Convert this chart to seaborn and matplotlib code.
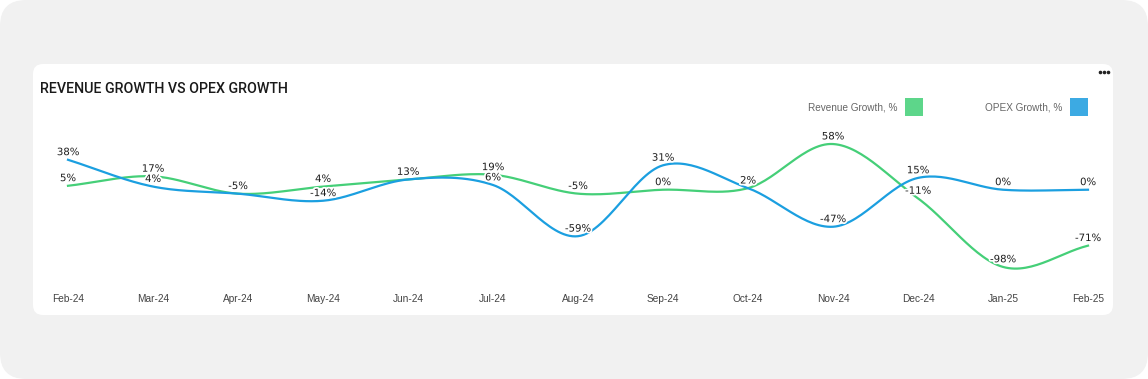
import numpy as np
import pandas as pd
import matplotlib
matplotlib.use("Agg")
import matplotlib.pyplot as plt
import matplotlib.patheffects as pe
from matplotlib.patches import FancyBboxPatch, Rectangle
import seaborn as sns

# data
months = ["Feb-24", "Mar-24", "Apr-24", "May-24", "Jun-24", "Jul-24", "Aug-24",
          "Sep-24", "Oct-24", "Nov-24", "Dec-24", "Jan-25", "Feb-25"]
revenue_growth = [5, 17, -5, 4, 13, 19, -5, 0, 2, 58, -11, -98, -71]
opex_growth = [38, 4, -5, -14, 13, 6, -59, 31, 2, -47, 15, 0, 0]

GREEN = "#45cf78"
BLUE = "#1b9fe0"
GREEN_SQ = "#5dd68a"
BLUE_SQ = "#3caae3"


def catmull_rom(y, steps=30):
    """Smooth curve through the points (like a chart 'spline' line)."""
    y = np.asarray(y, dtype=float)
    p = np.concatenate([[2 * y[0] - y[1]], y, [2 * y[-1] - y[-2]]])
    xs, ys = [], []
    for i in range(len(y) - 1):
        p0, p1, p2, p3 = p[i], p[i + 1], p[i + 2], p[i + 3]
        t = np.linspace(0, 1, steps, endpoint=False)
        seg = 0.5 * ((2 * p1) + (-p0 + p2) * t
                     + (2 * p0 - 5 * p1 + 4 * p2 - p3) * t ** 2
                     + (-p0 + 3 * p1 - 3 * p2 + p3) * t ** 3)
        xs.append(i + t)
        ys.append(seg)
    xs.append([len(y) - 1])
    ys.append([y[-1]])
    return np.concatenate(xs), np.concatenate(ys)


frames = []
for name, vals in [("Revenue Growth, %", revenue_growth), ("OPEX Growth, %", opex_growth)]:
    sx, sy = catmull_rom(vals)
    frames.append(pd.DataFrame({"x": sx, "value": sy, "series": name}))
curve_df = pd.concat(frames, ignore_index=True)

W, H = 1148, 379
fig = plt.figure(figsize=(W / 100, H / 100), dpi=100)
fig.patch.set_facecolor("white")

# background: grey rounded panel + white card
bg = fig.add_axes([0, 0, 1, 1])
bg.set_xlim(0, W)
bg.set_ylim(H, 0)
bg.axis("off")
bg.add_patch(FancyBboxPatch((0, 0), W, H, boxstyle="round,pad=0,rounding_size=26",
                            facecolor="#f1f1f1", edgecolor="none"))
bg.add_patch(FancyBboxPatch((33, 64), 1080, 251, boxstyle="round,pad=0,rounding_size=10",
                            facecolor="white", edgecolor="none"))
for dx in (1100.5, 1104.5, 1108.5):
    bg.add_patch(plt.Circle((dx, 72.5), 1.1, color="#222222"))

bg.text(40, 89, "REVENUE GROWTH VS OPEX GROWTH", fontsize=10.3, fontweight="medium",
        family="Roboto", color="#1a1a1a", va="center", ha="left")

# legend
bg.text(897, 107, "Revenue Growth, %", fontsize=7.2, color="#666666",
        family="Liberation Sans", ha="right", va="center")
bg.add_patch(Rectangle((905, 98), 18, 18, facecolor=GREEN_SQ, edgecolor="none"))
bg.text(1062, 107, "OPEX Growth, %", fontsize=7.2, color="#666666",
        family="Liberation Sans", ha="right", va="center")
bg.add_patch(Rectangle((1070, 98), 18, 18, facecolor=BLUE_SQ, edgecolor="none"))

# main chart area
x0, x1, ytop, ybot = 68, 1088, 120, 280
ax = fig.add_axes([x0 / W, (H - ybot) / H, (x1 - x0) / W, (ybot - ytop) / H])
ax.set_facecolor("none")
sns.lineplot(data=curve_df, x="x", y="value", hue="series",
             palette={"Revenue Growth, %": GREEN, "OPEX Growth, %": BLUE},
             linewidth=1.6, ax=ax, legend=False, sort=False, estimator=None)
for line in ax.lines:
    line.set_clip_on(False)

ax.set_xlim(0, len(months) - 1)
ax.set_ylim(-114.6, 88.5)
ax.set_xticks(range(len(months)))
ax.set_xticklabels(months, fontsize=7.3, color="#444444", family="Liberation Sans")
ax.tick_params(axis="x", length=0, pad=10)
ax.set_yticks([])
ax.set_xlabel("")
ax.set_ylabel("")
for s in ax.spines.values():
    s.set_visible(False)

halo = [pe.withStroke(linewidth=2.5, foreground="white")]
for vals in (revenue_growth, opex_growth):
    for i, v in enumerate(vals):
        ax.annotate(f"{v}%", (i, v), xytext=(0, 5.5), textcoords="offset points",
                    ha="center", va="center", fontsize=7.3, color="#1e1e1e",
                    family="DejaVu Sans", path_effects=halo, annotation_clip=False)

fig.savefig("out.png", dpi=100, facecolor="white")
